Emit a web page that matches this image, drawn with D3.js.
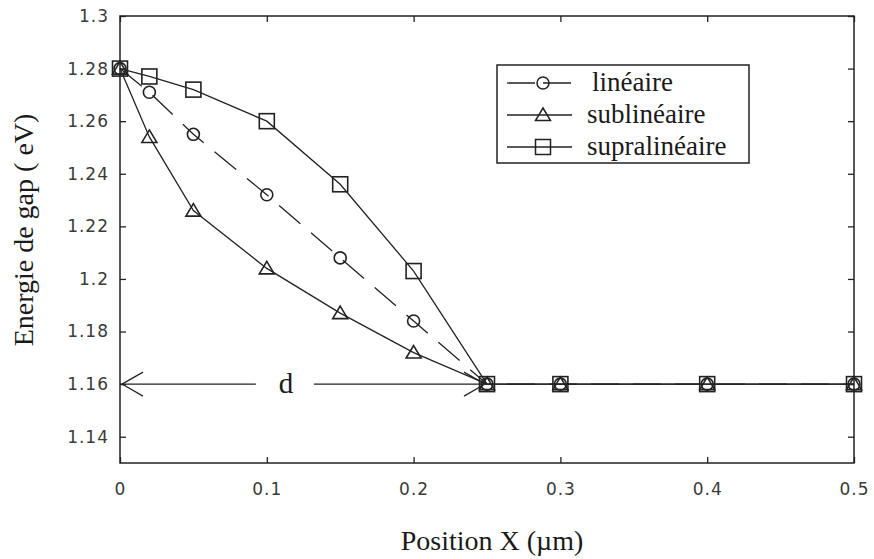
<!DOCTYPE html>
<html>
<head>
<meta charset="utf-8">
<script src="https://cdn.jsdelivr.net/npm/d3@7"></script>
<style>
  body { margin: 0; background: #fff; }
  svg { display: block; }
</style>
</head>
<body>
<svg width="874" height="559"></svg>
<script>
// values
let posX = [0, 0.02, 0.05, 0.1, 0.15, 0.2, 0.25, 0.3, 0.4, 0.5];
let lineaire = [1.28, 1.271, 1.255, 1.232, 1.208, 1.184, 1.16, 1.16, 1.16, 1.16];
let sublineaire = [1.28, 1.254, 1.226, 1.204, 1.187, 1.172, 1.16, 1.16, 1.16, 1.16];
let supralineaire = [1.28, 1.277, 1.272, 1.26, 1.236, 1.203, 1.16, 1.16, 1.16, 1.16];

let xTicks = [0, 0.1, 0.2, 0.3, 0.4, 0.5];
let yTicks = [1.14, 1.16, 1.18, 1.2, 1.22, 1.24, 1.26, 1.28, 1.3];

let seriesNames = ["linéaire", "sublinéaire", "supralinéaire"];
let seriesMarkers = ["circle", "triangle", "square"];

// arrow "d" from 0 to 0.25 at 1.16
let dStart = 0, dEnd = 0.25, dLevel = 1.16;

let svg = d3.select("svg");
let padding = {l: 120, r: 20, t: 16, b: 96};
let svgWidth = +svg.attr("width");
let svgHeight = +svg.attr("height");
let chartWidth = svgWidth - padding.l - padding.r;
let chartHeight = svgHeight - padding.t - padding.b;

let x = d3.scaleLinear().domain([0, 0.5]).range([padding.l, padding.l + chartWidth]);
let y = d3.scaleLinear().domain([1.13, 1.3]).range([padding.t + chartHeight, padding.t]);

let ink = "#222";
let tickFont = "'DejaVu Sans', Arial, sans-serif";
let serif = "'Liberation Serif', 'Times New Roman', serif";

// axes with inward ticks (matlab look)
let bottomAxis = svg.append("g")
  .attr("transform", "translate(0," + (padding.t + chartHeight) + ")")
  .call(d3.axisBottom(x).tickValues(xTicks).tickSize(-6).tickPadding(20).tickFormat(d3.format("")));
let topAxis = svg.append("g")
  .attr("transform", "translate(0," + padding.t + ")")
  .call(d3.axisTop(x).tickValues(xTicks).tickSize(-6).tickFormat(""));
let leftAxis = svg.append("g")
  .attr("transform", "translate(" + padding.l + ",0)")
  .call(d3.axisLeft(y).tickValues(yTicks).tickSize(-6).tickPadding(11).tickFormat(d3.format("")));
let rightAxis = svg.append("g")
  .attr("transform", "translate(" + (padding.l + chartWidth) + ",0)")
  .call(d3.axisRight(y).tickValues(yTicks).tickSize(-6).tickFormat(""));

[bottomAxis, topAxis, leftAxis, rightAxis].forEach(function(g) {
  g.select(".domain").remove();
  g.selectAll(".tick line").attr("stroke", ink).attr("stroke-width", 1.3);
  g.selectAll(".tick text")
    .attr("fill", "#3a3a3a")
    .style("font-family", tickFont)
    .style("font-size", "17px")
    .style("letter-spacing", "1px");
});

// frame
svg.append("rect")
  .attr("x", x(0)).attr("y", y(1.3))
  .attr("width", x(0.5) - x(0)).attr("height", y(1.13) - y(1.3))
  .attr("fill", "none").attr("stroke", ink).attr("stroke-width", 1.5);

let line = d3.line()
  .x(function(d) { return x(d[0]); })
  .y(function(d) { return y(d[1]); });

function drawMarker(g, kind, cx, cy) {
  if (kind === "circle") {
    g.append("circle").attr("cx", cx).attr("cy", cy).attr("r", 6);
  } else if (kind === "square") {
    g.append("rect").attr("x", cx - 7.5).attr("y", cy - 7.5).attr("width", 15).attr("height", 15);
  } else {
    g.append("path").attr("d", "M" + cx + "," + (cy - 7) + "L" + (cx + 7.5) + "," + (cy + 5.5) + "L" + (cx - 7.5) + "," + (cy + 5.5) + "Z");
  }
}

let allSeries = [lineaire, sublineaire, supralineaire];
allSeries.forEach(function(vals, i) {
  let pts = posX.map(function(px, j) { return [px, vals[j]]; });
  svg.append("path")
    .datum(pts)
    .attr("d", line)
    .attr("fill", "none")
    .attr("stroke", ink)
    .attr("stroke-width", 1.3)
    .attr("stroke-dasharray", i === 0 ? "28,14" : null);
  let mg = svg.append("g").attr("fill", "none").attr("stroke", ink).attr("stroke-width", 1.6);
  pts.forEach(function(p) {
    drawMarker(mg, seriesMarkers[i], x(p[0]), y(p[1]));
  });
});

// double arrow with "d"
let ay = y(dLevel);
let ax0 = x(dStart), ax1 = x(dEnd);
let dX = x(0.113);
let arrowG = svg.append("g").attr("stroke", ink).attr("stroke-width", 1.2).attr("fill", "none");
arrowG.append("line").attr("x1", ax0).attr("x2", dX - 30).attr("y1", ay).attr("y2", ay);
arrowG.append("line").attr("x1", dX + 28).attr("x2", ax1).attr("y1", ay).attr("y2", ay);
arrowG.append("path").attr("d", "M" + (ax0 + 23) + "," + (ay - 12) + "L" + (ax0 + 2) + "," + ay + "L" + (ax0 + 23) + "," + (ay + 12));
arrowG.append("path").attr("d", "M" + (ax1 - 23) + "," + (ay - 12) + "L" + (ax1 - 2) + "," + ay + "L" + (ax1 - 23) + "," + (ay + 12));
svg.append("text")
  .attr("x", dX).attr("y", ay + 9)
  .attr("text-anchor", "middle")
  .attr("fill", "#1a1a1a")
  .style("font-family", serif).style("font-size", "29px")
  .text("d");

// legend
let legend = svg.append("g");
legend.append("rect")
  .attr("x", 497).attr("y", 65).attr("width", 252).attr("height", 98)
  .attr("fill", "#fff").attr("stroke", ink).attr("stroke-width", 1.5);
seriesNames.forEach(function(name, i) {
  let ly = 83 + i * 32;
  legend.append("line")
    .attr("x1", 507).attr("x2", 572).attr("y1", ly).attr("y2", ly)
    .attr("stroke", ink).attr("stroke-width", 1.3)
    .attr("stroke-dasharray", i === 0 ? "28,8" : null);
  let mg = legend.append("g").attr("fill", "none").attr("stroke", ink).attr("stroke-width", 1.5);
  drawMarker(mg, seriesMarkers[i], 543, ly);
  legend.append("text")
    .attr("x", i === 0 ? 592 : 587).attr("y", ly + 8)
    .attr("fill", "#1a1a1a")
    .style("font-family", serif).style("font-size", "27px")
    .text(name);
});

// axis titles
svg.append("text")
  .attr("x", 492).attr("y", 550)
  .attr("text-anchor", "middle")
  .attr("fill", "#1a1a1a")
  .style("font-family", serif).style("font-size", "28px")
  .text("Position X (µm)");
svg.append("text")
  .attr("transform", "translate(33,230) rotate(-90)")
  .attr("text-anchor", "middle")
  .attr("fill", "#1a1a1a")
  .style("font-family", serif).style("font-size", "28px")
  .text("Energie de gap ( eV)");
</script>
</body>
</html>
